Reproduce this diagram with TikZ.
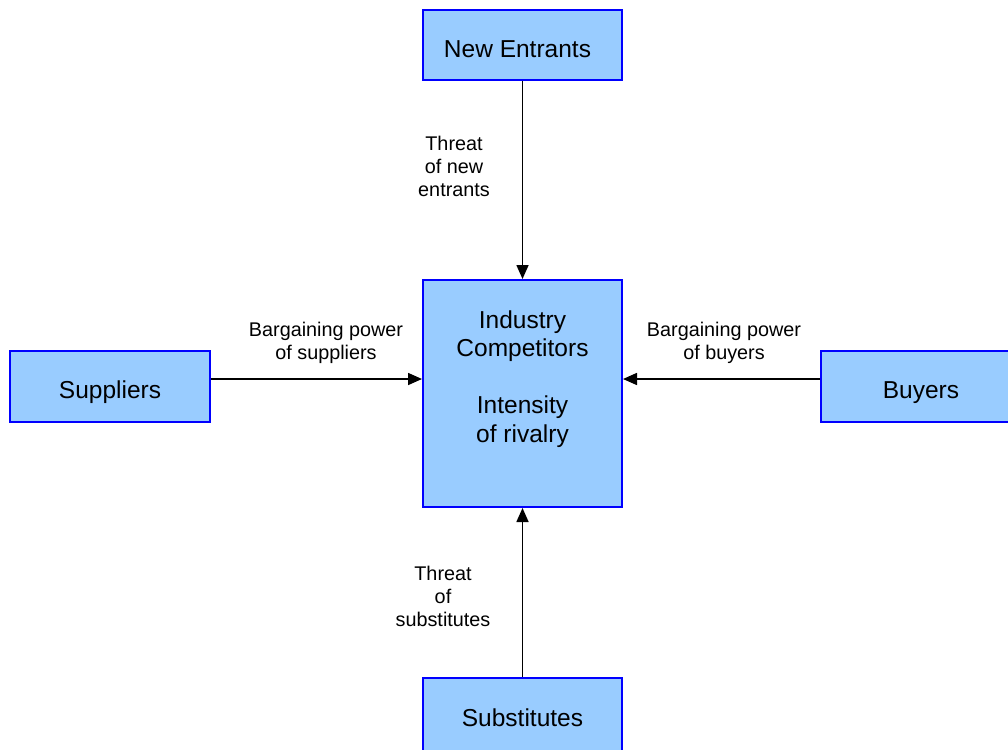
\documentclass[tikz,border=0pt]{standalone}
\usepackage{fontspec}
\setmainfont{Liberation Sans}
\usetikzlibrary{arrows.meta}
\definecolor{boxfill}{HTML}{99CCFF}
\definecolor{boxline}{HTML}{0000FF}
\tikzset{
  forcebox/.style={draw=boxline, fill=boxfill, line width=2pt, inner sep=0pt},
  boxtext/.style={font=\fontsize{24.5}{28.5}\selectfont, align=center, inner sep=0pt},
  forcelabel/.style={font=\fontsize{19.8}{23}\selectfont, align=center, inner sep=0pt},
  arr/.style={line width=1.6pt, -{Triangle[length=14pt,width=12pt]}}
}
\begin{document}
\begin{tikzpicture}[x=1pt,y=-1pt]
\useasboundingbox (0,0) rectangle (1008,749);
\clip (0,0) rectangle (1008,749);
\node[forcebox, minimum width=199pt, minimum height=70pt] (ent) at (522.5,45) {};
\node[boxtext] (entt) at (517.5,49) {New Entrants};
\node[forcebox, minimum width=199pt, minimum height=227pt] (ind) at (522.5,393.5) {};
\node[boxtext] (indt) at (522.5,379) {Industry\\Competitors\\[28.5pt]Intensity\\of rivalry};
\node[forcebox, minimum width=200pt, minimum height=71pt] (sup) at (110,386.5) {};
\node[boxtext] (supt) at (110,392.5) {Suppliers};
\node[forcebox, minimum width=220pt, minimum height=71pt] (buy) at (931,386.5) {};
\node[boxtext] (buyt) at (921,392.5) {Buyers};
\node[forcebox, minimum width=199pt, minimum height=90pt] (sub) at (522.5,723) {};
\node[boxtext] (subt) at (522.5,718) {Substitutes};
\draw[arr] (ent.south) -- (ind.north);
\draw[arr] (sub.north) -- (ind.south);
\draw[arr] ([yshift=7.5pt]sup.east) coordinate (sa) -- (sa -| ind.west);
\draw[arr] ([yshift=7.5pt]buy.west) coordinate (ba) -- (ba -| ind.east);
\node[forcelabel] (l1) at (454,166) {Threat\\of new\\entrants};
\node[forcelabel] (l2) at (326,343) {Bargaining power\\of suppliers};
\node[forcelabel] (l3) at (724,343) {Bargaining power\\of buyers};
\node[forcelabel] (l4) at (443,596) {Threat\\of\\substitutes};
\end{tikzpicture}
\end{document}
